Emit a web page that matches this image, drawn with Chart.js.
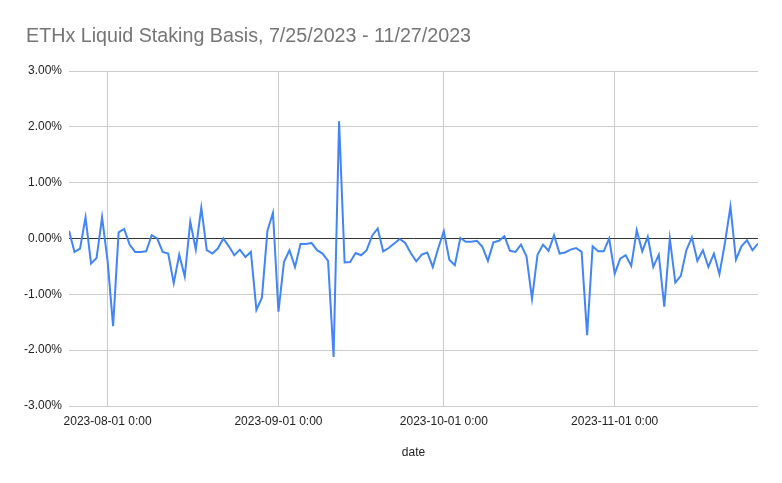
<!DOCTYPE html>
<html>
<head>
<meta charset="utf-8">
<script src="https://cdn.jsdelivr.net/npm/chart.js@4/dist/chart.umd.min.js"></script>
<style>
  html, body { margin: 0; padding: 0; background: #ffffff; }
  #wrap { width: 782px; height: 483px; position: relative; }
</style>
</head>
<body>
<div id="wrap"><canvas id="c" width="782" height="483"></canvas></div>
<script>
// ---- Data ----
const chartTitle = 'ETHx Liquid Staking Basis, 7/25/2023 - 11/27/2023';
const xAxisTitle = 'date';
const startDate = '2023-07-25';   // first day of the daily series
// daily basis, in percent (7/25/2023 .. 11/27/2023)
const basisPct = [
  0.14, -0.24, -0.18, 0.38, -0.45, -0.35, 0.38, -0.40, -1.57, 0.11,
  0.17, -0.11, -0.24, -0.24, -0.23, 0.06, 0.00, -0.24, -0.27, -0.80,
  -0.29, -0.68, 0.30, -0.20, 0.55, -0.21, -0.27, -0.18, 0.00, -0.14,
  -0.30, -0.20, -0.33, -0.24, -1.28, -1.06, 0.14, 0.46, -1.31, -0.42,
  -0.21, -0.51, -0.10, -0.10, -0.08, -0.21, -0.27, -0.40, -2.12, 2.10,
  -0.43, -0.42, -0.26, -0.30, -0.21, 0.05, 0.18, -0.23, -0.17, -0.09,
  -0.01, -0.08, -0.26, -0.41, -0.29, -0.25, -0.51, -0.17, 0.13, -0.38,
  -0.48, 0.01, -0.06, -0.06, -0.04, -0.15, -0.40, -0.07, -0.04, 0.04,
  -0.22, -0.24, -0.11, -0.32, -1.08, -0.29, -0.11, -0.22, 0.06, -0.27,
  -0.25, -0.20, -0.17, -0.24, -1.73, -0.14, -0.23, -0.23, 0.00, -0.63,
  -0.36, -0.30, -0.49, 0.15, -0.23, 0.03, -0.51, -0.29, -1.22, 0.00,
  -0.79, -0.67, -0.21, 0.02, -0.40, -0.21, -0.51, -0.27, -0.64, -0.08,
  0.57, -0.38, -0.14, -0.03, -0.21, -0.09
];
const xTickDates = ['2023-08-01', '2023-09-01', '2023-10-01', '2023-11-01'];
const xTickLabels = ['2023-08-01 0:00', '2023-09-01 0:00', '2023-10-01 0:00', '2023-11-01 0:00'];
const yTicks = [-3, -2, -1, 0, 1, 2, 3];

// ---- Build ----
const DAY = 86400000;
const t0 = Date.parse(startDate + 'T00:00:00Z');
const dayIndex = d => Math.round((Date.parse(d + 'T00:00:00Z') - t0) / DAY);
const points = basisPct.map((v, i) => ({ x: i, y: v }));
const xTickPos = xTickDates.map(dayIndex);

const titlePlugin = {
  id: 'customTitle',
  afterDraw(chart) {
    const ctx = chart.ctx;
    ctx.save();
    ctx.font = '19.7px "Liberation Sans", Arial, sans-serif';
    ctx.fillStyle = '#757575';
    ctx.textAlign = 'left';
    ctx.textBaseline = 'middle';
    ctx.fillText(chartTitle, 26, 37);
    ctx.restore();
  }
};

new Chart(document.getElementById('c'), {
  type: 'line',
  data: {
    datasets: [{
      data: points,
      borderColor: '#4285F4',
      borderWidth: 2,
      pointRadius: 0,
      pointHoverRadius: 0,
      tension: 0,
      fill: false
    }]
  },
  options: {
    responsive: false,
    animation: false,
    devicePixelRatio: 1,
    layout: { padding: { top: 71, right: 24, bottom: 0, left: 0 } },
    plugins: {
      legend: { display: false },
      tooltip: { enabled: false },
      title: { display: false }
    },
    scales: {
      x: {
        type: 'linear',
        min: 0,
        max: basisPct.length - 1,
        afterBuildTicks: s => { s.ticks = xTickPos.map(v => ({ value: v })); },
        afterFit: s => { s.height = 77; },
        border: { display: false },
        grid: { color: '#cccccc', lineWidth: 1, drawTicks: false },
        ticks: {
          autoSkip: false,
          maxRotation: 0,
          padding: 8,
          color: '#222222',
          font: { family: '"Liberation Sans", Arial, sans-serif', size: 12 },
          callback: v => { const k = xTickPos.indexOf(v); return k >= 0 ? xTickLabels[k] : ''; }
        },
        title: {
          display: true,
          text: xAxisTitle,
          color: '#222222',
          font: { family: '"Liberation Sans", Arial, sans-serif', size: 12 },
          padding: { top: 0, bottom: 23 }
        }
      },
      y: {
        min: yTicks[0],
        max: yTicks[yTicks.length - 1],
        afterBuildTicks: s => { s.ticks = yTicks.map(v => ({ value: v })); },
        afterFit: s => { s.width = 69; },
        border: { display: false },
        grid: {
          color: c => (c.tick && c.tick.value === 0) ? '#333333' : '#cccccc',
          lineWidth: 1,
          drawTicks: false
        },
        ticks: {
          padding: 7,
          color: '#222222',
          font: { family: '"Liberation Sans", Arial, sans-serif', size: 12 },
          callback: v => v.toFixed(2) + '%'
        }
      }
    }
  },
  plugins: [titlePlugin]
});
</script>
</body>
</html>
